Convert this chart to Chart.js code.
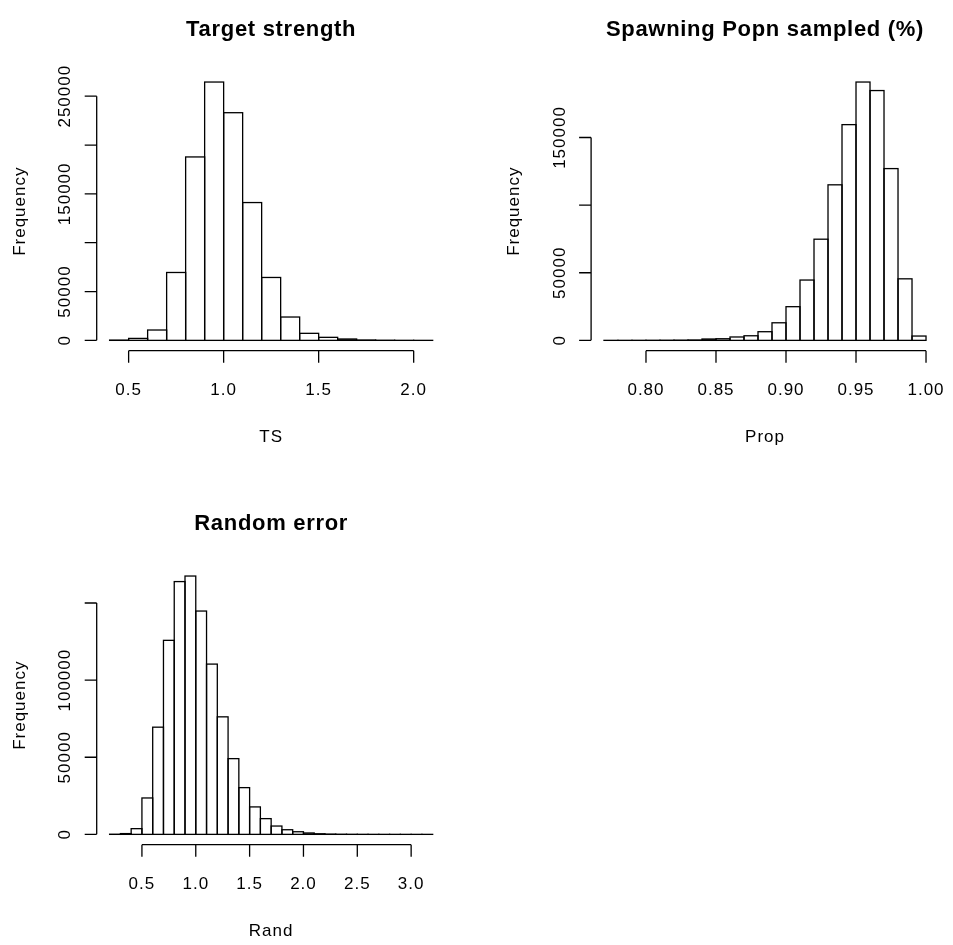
<!DOCTYPE html>
<html>
<head>
<meta charset="utf-8">
<script src="https://cdn.jsdelivr.net/npm/chart.js@4.4.1/dist/chart.umd.min.js"></script>
<style>
  body { margin: 0; background: #fff; }
  #wrap { position: relative; width: 953px; height: 945px; overflow: hidden; background: #fff; }
  canvas { position: absolute; }
</style>
</head>
<body>
<div id="wrap">
  <canvas id="c1" width="476" height="472" style="left:0;top:0"></canvas>
  <canvas id="c2" width="477" height="472" style="left:476px;top:0"></canvas>
  <canvas id="c3" width="476" height="473" style="left:0;top:472px"></canvas>
</div>
<script>
// Target strength
const tsBreaks = [0.4, 0.5, 0.6, 0.7, 0.8, 0.9, 1.0, 1.1, 1.2, 1.3, 1.4, 1.5, 1.6, 1.7, 1.8, 1.9, 2.0, 2.1];
const tsCounts = [300, 2000, 10600, 69500, 187800, 264500, 233100, 141100, 64400, 23900, 7200, 3100, 1400, 400, 150, 50, 20];
const tsXTicks = [0.5, 1.0, 1.5, 2.0];
const tsXLabels = ['0.5', '1.0', '1.5', '2.0'];
const tsYTicks = [0, 50000, 100000, 150000, 200000, 250000];
const tsYLabels = ['0', '50000', '', '150000', '', '250000'];

// Spawning population sampled
const propBreaks = [0.77, 0.78, 0.79, 0.80, 0.81, 0.82, 0.83, 0.84, 0.85, 0.86, 0.87, 0.88, 0.89,
  0.90, 0.91, 0.92, 0.93, 0.94, 0.95, 0.96, 0.97, 0.98, 0.99, 1.00];
const propCounts = [20, 30, 50, 80, 120, 180, 300, 1000, 1200, 2500, 3400, 6400, 13000,
  24900, 44600, 74800, 115000, 159500, 191000, 184700, 127000, 45500, 3200];
const propXTicks = [0.80, 0.85, 0.90, 0.95, 1.00];
const propXLabels = ['0.80', '0.85', '0.90', '0.95', '1.00'];
const propYTicks = [0, 50000, 100000, 150000];
const propYLabels = ['0', '50000', '', '150000'];

// Random error
const randBreaks = [0.2, 0.3, 0.4, 0.5, 0.6, 0.7, 0.8, 0.9, 1.0, 1.1, 1.2, 1.3, 1.4, 1.5, 1.6, 1.7,
  1.8, 1.9, 2.0, 2.1, 2.2, 2.3, 2.4, 2.5, 2.6, 2.7, 2.8, 2.9, 3.0, 3.1, 3.2];
const randCounts = [100, 500, 3700, 23600, 69500, 125800, 163900, 167500, 144800, 110400, 76200, 49100,
  30300, 17800, 10200, 5400, 3000, 1700, 900, 400, 200, 100, 60, 35, 20, 12, 8, 5, 3, 2];
const randXTicks = [0.5, 1.0, 1.5, 2.0, 2.5, 3.0];
const randXLabels = ['0.5', '1.0', '1.5', '2.0', '2.5', '3.0'];
const randYTicks = [0, 50000, 100000, 150000];
const randYLabels = ['0', '50000', '100000', ''];

const FONT = '"Liberation Sans", Arial, Helvetica, sans-serif';

// draws histogram outlines and R-style axes/labels
const rAxes = {
  id: 'rAxes',
  afterDatasetsDraw(chart) {
    const ctx = chart.ctx;
    ctx.save();
    ctx.strokeStyle = '#000';
    ctx.lineWidth = 1.3;
    chart.getDatasetMeta(0).data.forEach(bar => {
      const p = bar.getProps(['x', 'y', 'base', 'width'], true);
      ctx.strokeRect(p.x - p.width / 2, Math.min(p.y, p.base), p.width, Math.abs(p.base - p.y));
    });
    ctx.restore();
  },
  afterDraw(chart, args, o) {
    const ctx = chart.ctx;
    const area = chart.chartArea;
    const xs = chart.scales.x, ys = chart.scales.y;
    ctx.save();
    ctx.strokeStyle = '#000';
    ctx.fillStyle = '#000';
    ctx.lineWidth = 1.3;

    // x axis
    const y0 = area.bottom;
    ctx.beginPath();
    ctx.moveTo(xs.getPixelForValue(o.xTicks[0]), y0);
    ctx.lineTo(xs.getPixelForValue(o.xTicks[o.xTicks.length - 1]), y0);
    o.xTicks.forEach(t => {
      const px = xs.getPixelForValue(t);
      ctx.moveTo(px, y0);
      ctx.lineTo(px, y0 + 12);
    });
    ctx.stroke();

    // y axis
    const x0 = area.left;
    ctx.beginPath();
    ctx.moveTo(x0, ys.getPixelForValue(o.yTicks[0]));
    ctx.lineTo(x0, ys.getPixelForValue(o.yTicks[o.yTicks.length - 1]));
    o.yTicks.forEach(t => {
      const py = ys.getPixelForValue(t);
      ctx.moveTo(x0, py);
      ctx.lineTo(x0 - 12, py);
    });
    ctx.stroke();

    ctx.font = '17px ' + FONT;
    ctx.letterSpacing = '1px';
    ctx.textAlign = 'center';
    ctx.textBaseline = 'alphabetic';
    o.xTicks.forEach((t, i) => {
      ctx.fillText(o.xLabels[i], xs.getPixelForValue(t), y0 + 44.3);
    });
    ctx.fillText(o.xTitle, (area.left + area.right) / 2, y0 + 91);

    o.yTicks.forEach((t, i) => {
      if (!o.yLabels[i]) return;
      ctx.save();
      ctx.translate(x0 - 26.5, ys.getPixelForValue(t));
      ctx.rotate(-Math.PI / 2);
      ctx.fillText(o.yLabels[i], 0, 0);
      ctx.restore();
    });
    ctx.save();
    ctx.translate(x0 - 72, (area.top + area.bottom) / 2);
    ctx.rotate(-Math.PI / 2);
    ctx.fillText(o.yTitle, 0, 0);
    ctx.restore();

    ctx.font = 'bold 22px ' + FONT;
    ctx.letterSpacing = '0.7px';
    ctx.fillText(o.title, (area.left + area.right) / 2, area.top - 35.5);
    ctx.restore();
  }
};

function histogram(id, breaks, counts, labels, padding) {
  const mids = counts.map((c, i) => (breaks[i] + breaks[i + 1]) / 2);
  const lo = breaks[0], hi = breaks[breaks.length - 1];
  const ext = (hi - lo) * 0.04;
  const top = Math.max(...counts);
  return new Chart(document.getElementById(id), {
    type: 'bar',
    data: {
      datasets: [{
        data: counts.map((c, i) => ({ x: mids[i], y: c })),
        backgroundColor: '#fff',
        borderWidth: 0,
        barPercentage: 1,
        categoryPercentage: 1
      }]
    },
    options: {
      responsive: false,
      animation: false,
      layout: { padding: padding },
      scales: {
        x: { type: 'linear', offset: false, min: lo - ext, max: hi + ext, display: false },
        y: { min: -0.04 * top, max: 1.04 * top, display: false }
      },
      plugins: {
        legend: { display: false },
        tooltip: { enabled: false },
        rAxes: labels
      }
    },
    plugins: [rAxes]
  });
}

histogram('c1', tsBreaks, tsCounts, {
  title: 'Target strength', xTitle: 'TS', yTitle: 'Frequency',
  xTicks: tsXTicks, xLabels: tsXLabels, yTicks: tsYTicks, yLabels: tsYLabels
}, { left: 96.7, right: 30.4, top: 71.7, bottom: 121.3 });

histogram('c2', propBreaks, propCounts, {
  title: 'Spawning Popn sampled (%)', xTitle: 'Prop', yTitle: 'Frequency',
  xTicks: propXTicks, xLabels: propXLabels, yTicks: propYTicks, yLabels: propYLabels
}, { left: 115.1, right: 14.1, top: 71.7, bottom: 121.3 });

histogram('c3', randBreaks, randCounts, {
  title: 'Random error', xTitle: 'Rand', yTitle: 'Frequency',
  xTicks: randXTicks, xLabels: randXLabels, yTicks: randYTicks, yLabels: randYLabels
}, { left: 96.7, right: 30.4, top: 93.7, bottom: 100.3 });
</script>
</body>
</html>
